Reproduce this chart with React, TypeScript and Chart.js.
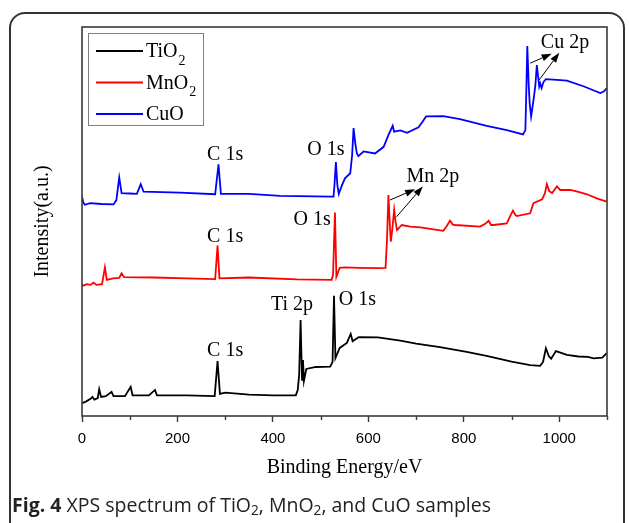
import React, { useEffect, useRef } from "react";
import { Chart, registerables } from "chart.js";

Chart.register(...registerables);

// ---------- data (binding energy in eV, intensity in arbitrary units) ----------
const energyTiO2 = [0, 8, 18, 22, 26, 33, 36, 40, 50, 62, 66, 90, 102, 106, 140, 153, 157, 220, 278, 284, 289, 300, 350, 400, 448, 452, 455, 458, 461, 463, 465, 470, 490, 520, 525, 528, 531, 540, 555, 563, 567, 580, 620, 667, 700, 750, 806, 850, 900, 939, 960, 966, 972, 978, 983, 993, 1016, 1040, 1060, 1072, 1090, 1100];
const intensityTiO2 = [3.3, 3.7, 4.4, 4.9, 4.2, 4.6, 6.9, 4.9, 5.1, 6.2, 5.1, 5.1, 7.5, 5.3, 5.3, 6.7, 5.3, 5.3, 5.1, 14.1, 5.7, 6.0, 5.5, 5.3, 5.3, 6.7, 10.5, 24.7, 9.3, 14.4, 9.0, 12.1, 12.6, 12.7, 13.9, 30.9, 14.9, 17.5, 18.8, 21.1, 19.2, 20.3, 20.2, 19.4, 18.6, 17.7, 16.5, 15.4, 14.0, 13.1, 12.9, 13.9, 17.4, 15.4, 14.7, 16.7, 15.7, 15.3, 15.2, 14.8, 15.0, 16.2];

const energyMnO2 = [0, 10, 18, 24, 30, 42, 48, 52, 65, 78, 83, 88, 150, 220, 279, 284, 288, 350, 450, 523, 526, 530, 533, 540, 551, 580, 620, 636, 639, 642, 645, 647, 650, 654, 657, 660, 670, 688, 709, 740, 757, 764, 771, 777, 782, 834, 845, 852, 857, 862, 890, 897, 903, 908, 911, 939, 946, 964, 970, 974, 979, 985, 995, 1002, 1023, 1040, 1058, 1080, 1100];
const intensityMnO2 = [33.4, 33.9, 33.7, 34.3, 33.7, 33.9, 38.2, 35.0, 35.4, 35.5, 36.7, 35.7, 35.6, 35.4, 35.2, 43.8, 35.4, 35.6, 35.1, 35.0, 36.3, 52.3, 35.8, 38.1, 38.2, 38.1, 38.0, 38.1, 45.2, 56.8, 49.1, 44.8, 47.8, 53.0, 49.9, 47.8, 49.1, 48.7, 48.5, 47.9, 47.6, 48.8, 50.2, 49.2, 49.1, 48.7, 49.4, 50.2, 49.1, 49.1, 49.5, 51.4, 52.8, 51.7, 51.4, 52.1, 54.7, 55.7, 57.3, 59.6, 57.8, 57.3, 59.0, 58.1, 58.1, 57.6, 57.0, 55.9, 55.1];

const energyCuO = [0, 3, 6, 17, 40, 66, 72, 78, 83, 100, 115, 123, 129, 205, 279, 286, 291, 350, 415, 523, 527, 529, 532, 535, 538, 545, 551, 562, 566, 569, 573, 576, 579, 590, 614, 632, 642, 651, 654, 667, 681, 705, 712, 721, 757, 792, 848, 890, 924, 929, 931, 933, 936, 938, 941, 944, 947, 950, 953, 956, 958, 960, 963, 967, 972, 995, 1016, 1052, 1070, 1086, 1093, 1100];
const intensityCuO = [56.4, 54.8, 54.3, 54.7, 54.5, 54.4, 55.5, 61.3, 57.3, 57.2, 57.1, 59.6, 57.7, 57.4, 57.0, 64.7, 57.1, 57.1, 56.6, 56.4, 56.4, 59.4, 65.3, 59.4, 57.1, 59.4, 61.1, 62.4, 67.1, 74.0, 69.7, 67.5, 66.8, 68.0, 67.5, 69.2, 72.2, 74.6, 73.1, 73.4, 72.8, 74.2, 75.4, 77.0, 77.1, 76.3, 74.6, 73.5, 72.4, 73.5, 83.8, 95.1, 85.1, 80.4, 77.0, 79.5, 82.1, 85.1, 90.2, 86.9, 84.7, 85.5, 84.3, 85.9, 86.6, 86.4, 86.2, 84.7, 83.8, 83.0, 83.4, 84.3];

const seriesLabels = ["TiO2", "MnO2", "CuO"];
const seriesColors = ["#000000", "#ff0000", "#0000ff"];

const xMajorTicks = [0, 200, 400, 600, 800, 1000];
const xMinorTicks = [100, 300, 500, 700, 900, 1100];

// peak annotations (anchored in data coordinates)
const peakLabels = ["C 1s", "O 1s", "C 1s", "O 1s", "C 1s", "Ti 2p", "O 1s", "Mn 2p", "Cu 2p"];
const peakLabelE = [300, 511, 300, 482, 300, 440, 577, 735, 1012];
const peakLabelI = [67.1, 68.4, 46.0, 50.4, 16.7, 28.5, 29.8, 61.4, 95.9];

const arrowFromE = [645, 659, 939, 958];
const arrowFromI = [55.5, 51.2, 90.7, 86.4];
const arrowToE = [698, 714, 984, 1000];
const arrowToI = [58.3, 59.0, 93.1, 93.4];

const SERIF = "'Liberation Serif', 'Times New Roman', serif";
const SANS = "'Liberation Sans', Arial, sans-serif";

function drawSubText(ctx: CanvasRenderingContext2D, text: string, x: number, y: number) {
  // digits following letters are drawn as subscripts
  const m = text.match(/^(.*?)(\d*)$/);
  const base = m ? m[1] : text;
  const sub = m ? m[2] : "";
  ctx.font = `20px ${SERIF}`;
  ctx.textAlign = "left";
  ctx.textBaseline = "middle";
  ctx.fillText(base, x, y);
  if (sub) {
    const w = ctx.measureText(base).width;
    ctx.font = `14px ${SERIF}`;
    ctx.fillText(sub, x + w + 1, y + 9);
  }
}

const decorPlugin = {
  id: "decor",
  afterDraw(chart: any) {
    const { ctx, chartArea: ca, scales } = chart;
    const x = scales.x;
    const y = scales.y;
    ctx.save();

    // plot frame
    ctx.strokeStyle = "#3a3a3a";
    ctx.lineWidth = 1.6;
    ctx.strokeRect(ca.left, ca.top, ca.right - ca.left, ca.bottom - ca.top);

    // minor ticks
    ctx.lineWidth = 1.4;
    for (const v of xMinorTicks) {
      const px = Math.round(x.getPixelForValue(v)) + 0.5;
      ctx.beginPath();
      ctx.moveTo(px, ca.bottom);
      ctx.lineTo(px, ca.bottom + 4);
      ctx.stroke();
    }

    // peak labels
    ctx.fillStyle = "#000";
    ctx.font = `20px ${SERIF}`;
    ctx.textAlign = "center";
    ctx.textBaseline = "middle";
    peakLabels.forEach((t, i) => {
      ctx.fillText(t, x.getPixelForValue(peakLabelE[i]), y.getPixelForValue(peakLabelI[i]));
    });

    // arrows
    ctx.strokeStyle = "#000";
    ctx.lineWidth = 1;
    arrowFromE.forEach((_, i) => {
      const x0 = x.getPixelForValue(arrowFromE[i]);
      const y0 = y.getPixelForValue(arrowFromI[i]);
      const x1 = x.getPixelForValue(arrowToE[i]);
      const y1 = y.getPixelForValue(arrowToI[i]);
      const ang = Math.atan2(y1 - y0, x1 - x0);
      const hl = 10;
      const hw = 3.5;
      const bx = x1 - hl * Math.cos(ang);
      const by = y1 - hl * Math.sin(ang);
      ctx.beginPath();
      ctx.moveTo(x0, y0);
      ctx.lineTo(bx, by);
      ctx.stroke();
      ctx.beginPath();
      ctx.moveTo(x1, y1);
      ctx.lineTo(bx + hw * Math.sin(ang), by - hw * Math.cos(ang));
      ctx.lineTo(bx - hw * Math.sin(ang), by + hw * Math.cos(ang));
      ctx.closePath();
      ctx.fill();
    });

    // legend
    const lx = 88.5, ly = 33.5, lw = 115, lh = 92;
    ctx.strokeStyle = "#808080";
    ctx.lineWidth = 1;
    ctx.strokeRect(lx, ly, lw, lh);
    chart.data.datasets.forEach((ds: any, i: number) => {
      const rowY = 51 + i * 31.5;
      ctx.strokeStyle = ds.borderColor;
      ctx.lineWidth = 2;
      ctx.beginPath();
      ctx.moveTo(96, rowY);
      ctx.lineTo(143, rowY);
      ctx.stroke();
      ctx.fillStyle = "#000";
      drawSubText(ctx, ds.label, 146, rowY + 1);
    });

    ctx.restore();
  },
};

export default function App() {
  const canvasRef = useRef<HTMLCanvasElement | null>(null);

  useEffect(() => {
    if (!canvasRef.current) return;
    const mk = (es: number[], vs: number[]) => es.map((e, i) => ({ x: e, y: vs[i] }));
    const chart = new Chart(canvasRef.current, {
      type: "line",
      data: {
        datasets: [
          { label: seriesLabels[0], data: mk(energyTiO2, intensityTiO2), borderColor: seriesColors[0], borderWidth: 1.8, pointRadius: 0, tension: 0, fill: false },
          { label: seriesLabels[1], data: mk(energyMnO2, intensityMnO2), borderColor: seriesColors[1], borderWidth: 1.8, pointRadius: 0, tension: 0, fill: false },
          { label: seriesLabels[2], data: mk(energyCuO, intensityCuO), borderColor: seriesColors[2], borderWidth: 1.8, pointRadius: 0, tension: 0, fill: false },
        ],
      },
      options: {
        animation: false,
        responsive: false,
        maintainAspectRatio: false,
        devicePixelRatio: 1,
        layout: { padding: { top: 27, right: 22, left: 31, bottom: 43 } },
        plugins: { legend: { display: false }, tooltip: { enabled: false } },
        scales: {
          x: {
            type: "linear",
            min: 0,
            max: 1100,
            afterFit: (s: any) => { s.height = 64; },
            afterBuildTicks: (s: any) => { s.ticks = xMajorTicks.map((v) => ({ value: v })); },
            ticks: {
              includeBounds: false,
              color: "#000",
              padding: 8,
              maxRotation: 0,
              autoSkip: false,
              font: { family: SANS, size: 15 },
              callback: (v: any) => String(v),
            },
            grid: { display: true, drawOnChartArea: false, drawTicks: true, tickLength: 6, tickColor: "#3a3a3a", tickWidth: 1.4 },
            border: { display: false },
            title: { display: true, text: "Binding Energy/eV", color: "#000", padding: 0, font: { family: SERIF, size: 20 } },
          },
          y: {
            min: 0,
            max: 100,
            afterFit: (s: any) => { s.width = 51; },
            ticks: { display: false },
            grid: { display: false },
            border: { display: false },
            title: { display: true, text: "Intensity(a.u.)", color: "#000", padding: 0, font: { family: SERIF, size: 20 } },
          },
        },
      },
      plugins: [decorPlugin],
    } as any);
    return () => chart.destroy();
  }, []);

  const subStyle = { fontSize: "0.7em", verticalAlign: "-0.25em" };

  return (
    <div style={{ position: "fixed", left: 0, top: 0, width: 629, height: 523, overflow: "hidden", background: "#fff" }}>
      <div
        style={{
          position: "absolute",
          left: 9,
          top: 12,
          width: 616,
          height: 540,
          border: "2px solid #333",
          borderRadius: 16,
          boxSizing: "border-box",
        }}
      />
      <canvas ref={canvasRef} width={629} height={523} style={{ position: "absolute", left: 0, top: 0, width: 629, height: 523 }} />
      <div
        style={{
          position: "absolute",
          left: 12,
          top: 493,
          fontFamily: "'Open Sans', sans-serif",
          fontSize: 19.5,
          color: "#222",
          whiteSpace: "nowrap",
          lineHeight: "24px",
        }}
      >
        <b>Fig. 4</b> XPS spectrum of TiO<sub style={subStyle}>2</sub>, MnO<sub style={subStyle}>2</sub>, and CuO samples
      </div>
    </div>
  );
}
